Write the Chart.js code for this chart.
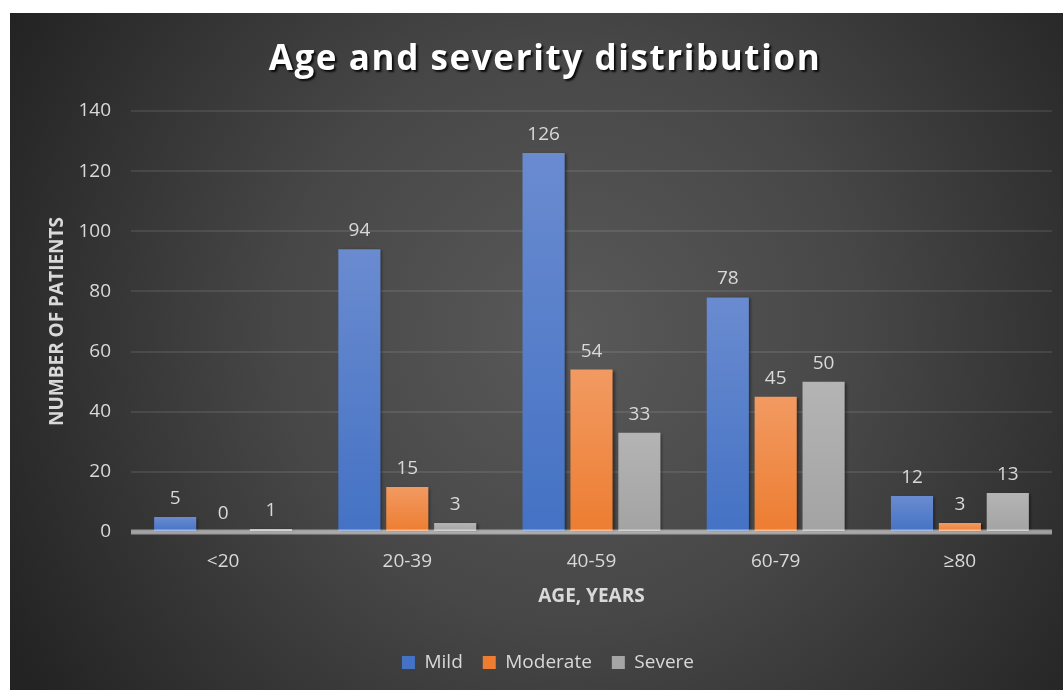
<!DOCTYPE html>
<html>
<head>
<meta charset="utf-8">
<script src="https://cdn.jsdelivr.net/npm/chart.js@4/dist/chart.umd.min.js"></script>
<style>
  html, body { margin: 0; padding: 0; background: #ffffff; }
  #wrap { position: absolute; left: 10px; top: 13px; width: 1053px; height: 677px; }
  canvas { display: block; }
</style>
</head>
<body>
<div id="wrap"><canvas id="chart" width="1053" height="677"></canvas></div>
<script>
// Patient counts by age band and severity
const ageGroups = ['<20', '20-39', '40-59', '60-79', '≥80'];
const mild = [5, 94, 126, 78, 12];
const moderate = [0, 15, 54, 45, 3];
const severe = [1, 3, 33, 50, 13];
const yTicks = [0, 20, 40, 60, 80, 100, 120, 140];
const chartTitle = 'Age and severity distribution';

const FONT = '"Open Sans", "DejaVu Sans", sans-serif';
const TEXT = '#d9d9d9';

// Vertical gradient per bar: lighter at the top, base colour at the bottom
function barFill(top, base) {
  return function (ctx) {
    const chart = ctx.chart;
    const area = chart.chartArea;
    if (!area || ctx.type !== 'data') return base;
    const y = chart.scales.y.getPixelForValue(ctx.raw);
    const y0 = chart.scales.y.getPixelForValue(0);
    if (!(y0 - y > 1)) return top;
    const g = chart.ctx.createLinearGradient(0, y, 0, y0);
    g.addColorStop(0, top);
    g.addColorStop(1, base);
    return g;
  };
}

const backgroundPlugin = {
  id: 'panelBackground',
  beforeDraw(chart) {
    const { ctx, width, height } = chart;
    ctx.save();
    const g = ctx.createRadialGradient(560, 320, 0, 560, 320, 640);
    g.addColorStop(0, '#595959');
    g.addColorStop(0.45, '#474747');
    g.addColorStop(1, '#232323');
    ctx.fillStyle = g;
    ctx.fillRect(0, 0, width, height);
    ctx.restore();
  }
};

// Legend sits slightly right of the canvas centre
const legendShift = {
  id: 'legendShift',
  afterLayout(chart) {
    const lg = chart.legend;
    if (lg) { lg.left += 17; lg.right += 17; }
  }
};

const shadowPlugin = {
  id: 'barShadow',
  beforeDatasetsDraw(chart) {
    const ctx = chart.ctx;
    ctx.save();
    ctx.shadowColor = 'rgba(0,0,0,0.45)';
    ctx.shadowBlur = 3;
    ctx.shadowOffsetX = 2;
    ctx.shadowOffsetY = 1;
  },
  afterDatasetsDraw(chart) {
    const ctx = chart.ctx;
    ctx.restore();
    // zero baseline drawn across the bars
    const y0 = chart.scales.y.getPixelForValue(0);
    const a = chart.chartArea;
    ctx.save();
    ctx.fillStyle = 'rgba(255,255,255,0.5)';
    ctx.fillRect(a.left, y0 - 2.5, a.right - a.left, 5);
    ctx.restore();
    // value labels above each bar
    ctx.save();
    ctx.font = '19px ' + FONT;
    ctx.fillStyle = TEXT;
    ctx.textAlign = 'center';
    ctx.textBaseline = 'bottom';
    chart.data.datasets.forEach((ds, i) => {
      const meta = chart.getDatasetMeta(i);
      meta.data.forEach((bar, j) => {
        ctx.fillText(String(ds.data[j]), bar.x, bar.y - 9);
      });
    });
    ctx.restore();
  }
};

const titlePlugin = {
  id: 'shadowTitle',
  afterDraw(chart) {
    const ctx = chart.ctx;
    ctx.save();
    ctx.font = 'bold 35px ' + FONT;
    try { ctx.letterSpacing = '1.6px'; } catch (e) {}
    ctx.textAlign = 'center';
    ctx.textBaseline = 'middle';
    ctx.shadowColor = 'rgba(0,0,0,0.85)';
    ctx.shadowBlur = 2;
    ctx.shadowOffsetX = 2;
    ctx.shadowOffsetY = 2;
    ctx.fillStyle = '#ffffff';
    ctx.fillText(chartTitle, 535, 47);
    ctx.restore();
  }
};

new Chart(document.getElementById('chart'), {
  type: 'bar',
  data: {
    labels: ageGroups,
    datasets: [
      { label: 'Mild', data: mild, backgroundColor: barFill('#6a8bd0', '#4472c4'), borderWidth: 0 },
      { label: 'Moderate', data: moderate, backgroundColor: barFill('#f29a62', '#ed7d31'), borderWidth: 0 },
      { label: 'Severe', data: severe, backgroundColor: barFill('#b4b4b4', '#a3a3a3'), borderWidth: 0 }
    ]
  },
  options: {
    responsive: false,
    animation: false,
    devicePixelRatio: 1,
    categoryPercentage: 0.78,
    barPercentage: 0.88,
    layout: { padding: { top: 98, right: 11, bottom: 8, left: 0 } },
    plugins: {
      title: { display: false },
      tooltip: { enabled: false },
      legend: {
        position: 'bottom',
        labels: {
          color: TEXT,
          font: { family: FONT, size: 19 },
          boxWidth: 13,
          boxHeight: 13,
          padding: 20,
          generateLabels(chart) {
            const solid = ['#4472c4', '#ed7d31', '#a5a5a5'];
            return chart.data.datasets.map((ds, i) => ({
              text: ds.label,
              fillStyle: solid[i],
              strokeStyle: solid[i],
              lineWidth: 0,
              fontColor: TEXT,
              datasetIndex: i,
              hidden: false
            }));
          }
        }
      }
    },
    scales: {
      x: {
        grid: { display: false, drawTicks: false },
        border: { display: false },
        ticks: { color: TEXT, font: { family: FONT, size: 19 }, padding: 18 },
        title: {
          display: true,
          text: 'AGE, YEARS',
          color: TEXT,
          font: { family: FONT, size: 19, weight: 'bold' },
          padding: { top: 0, bottom: 25 }
        },
        afterFit(scale) { scale.height = 101; }
      },
      y: {
        min: 0,
        max: 140,
        afterBuildTicks(scale) { scale.ticks = yTicks.map(v => ({ value: v })); },
        grid: { color: 'rgba(255,255,255,0.09)', lineWidth: 2, drawTicks: false },
        border: { display: false },
        ticks: { color: TEXT, font: { family: FONT, size: 19 }, padding: 20 },
        title: {
          display: true,
          text: 'NUMBER OF PATIENTS',
          color: TEXT,
          font: { family: FONT, size: 19, weight: 'bold' },
          padding: { top: 36, bottom: 0 }
        },
        afterFit(scale) { scale.width = 121; }
      }
    }
  },
  plugins: [backgroundPlugin, legendShift, shadowPlugin, titlePlugin]
});
</script>
</body>
</html>
